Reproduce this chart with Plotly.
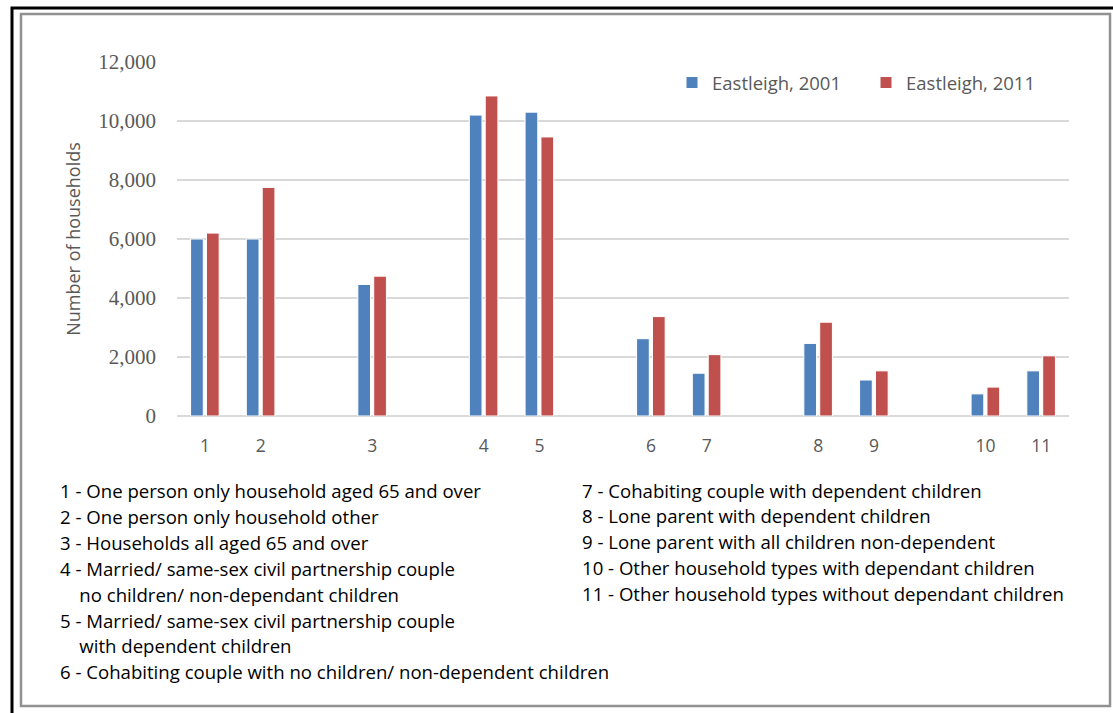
import plotly.graph_objects as go

# household type slots on the x axis (blank slots keep the gaps between groups)
slots = ["1", "2", " ", "3", "  ", "4", "5", "   ", "6", "7", "    ", "8", "9", "     ", "10", "11"]
eastleigh_2001 = [6000, 6000, None, 4460, None, 10200, 10300, None, 2620, 1450, None, 2460, 1220, None, 750, 1530]
eastleigh_2011 = [6200, 7750, None, 4740, None, 10850, 9460, None, 3370, 2080, None, 3180, 1530, None, 980, 2040]

y_ticks = [0, 2000, 4000, 6000, 8000, 10000, 12000]

notes_left = [
    "1 - One person only household aged 65 and over",
    "2 - One person only household other",
    "3 - Households all aged 65 and over",
    "4 - Married/ same-sex civil partnership couple",
    "    no children/ non-dependant children",
    "5 - Married/ same-sex civil partnership couple",
    "    with dependent children",
    "6 - Cohabiting couple with no children/ non-dependent children",
]
notes_right = [
    "7 - Cohabiting couple with dependent children",
    "8 - Lone parent with dependent children",
    "9 - Lone parent with all children non-dependent",
    "10 - Other household types with dependant children",
    "11 - Other household types without dependant children",
]

W, H = 1113, 713
L, R, T, B = 177, 1069, 62, 416  # plot area in pixels


def px_x(p):
    return (p - L) / (R - L)


def px_y(p):
    return (B - p) / (B - T)


BLUE = "#4f81bd"
RED = "#c0504d"
GREY_TXT = "#595959"
SANS = "'Open Sans', Lato, sans-serif"
SERIF = "'Liberation Serif', 'DejaVu Serif', serif"

fig = go.Figure()
fig.add_trace(go.Bar(x=slots, y=eastleigh_2001, name="Eastleigh, 2001",
                     marker=dict(color=BLUE, line=dict(color="white", width=1))))
fig.add_trace(go.Bar(x=slots, y=eastleigh_2011, name="Eastleigh, 2011",
                     marker=dict(color=RED, line=dict(color="white", width=1))))

fig.update_layout(
    width=W, height=H,
    margin=dict(l=L, r=W - R, t=T, b=H - B),
    paper_bgcolor="white", plot_bgcolor="white",
    barmode="group", bargap=0.43, bargroupgap=0.2,
    showlegend=True,
    legend=dict(orientation="h", x=px_x(672), y=px_y(64), xanchor="left", yanchor="top",
                bgcolor="rgba(0,0,0,0)", font=dict(family=SANS, size=18.5, color=GREY_TXT),
                entrywidth=149, itemwidth=30),
    xaxis=dict(type="category", categoryorder="array", categoryarray=slots,
               showgrid=False, showline=False, ticks="",
               tickfont=dict(family=SANS, size=17.5, color=GREY_TXT), ticklabelstandoff=17),
    yaxis=dict(range=[0, 12000], tickvals=y_ticks, tickformat=",d",
               showgrid=True, gridcolor="#d9d9d9", gridwidth=2,
               zeroline=True, zerolinecolor="#d9d9d9", zerolinewidth=2,
               tickfont=dict(family=SERIF, size=21, color=GREY_TXT), ticklabelstandoff=20,
               title=dict(text="Number of households", font=dict(family=SANS, size=18, color=GREY_TXT),
                          standoff=12)),
)

# outer black frame and inner grey frame
fig.add_shape(type="rect", xref="paper", yref="paper",
              x0=px_x(12), x1=px_x(1140), y0=px_y(740), y1=px_y(8),
              line=dict(color="black", width=3), layer="above")
fig.add_shape(type="rect", xref="paper", yref="paper",
              x0=px_x(21), x1=px_x(1110), y0=px_y(706), y1=px_y(14),
              line=dict(color="#919191", width=2.5), layer="above")

# category key below the chart
step = 25.8
for i, line in enumerate(notes_left):
    fig.add_annotation(text=line.replace(" " * 4, "&nbsp;" * 4), xref="paper", yref="paper",
                       x=px_x(58), y=px_y(491 + i * step), xanchor="left", yanchor="middle",
                       showarrow=False, font=dict(family=SANS, size=18.6, color="black"))
for i, line in enumerate(notes_right):
    fig.add_annotation(text=line, xref="paper", yref="paper",
                       x=px_x(580), y=px_y(490 + i * step), xanchor="left", yanchor="middle",
                       showarrow=False, font=dict(family=SANS, size=18.6, color="black"))

# page body has an 8px margin by default; drop it so the figure sits at 0,0
fig.write_html("out.html", config={"displayModeBar": False},
               post_script="document.body.style.margin='0';")
